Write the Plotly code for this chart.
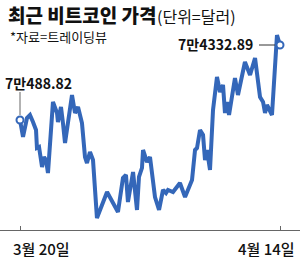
import plotly.graph_objects as go
from datetime import datetime, timedelta

# ---- data ----
title_text = "최근 비트코인 가격"
unit_text = "(단위=달러)"
source_text = "*자료=트레이딩뷰"
tick_labels = ["3월 20일", "4월 14일"]
tick_days = [0, 25]
start_date = datetime(2024, 3, 20)
start_label = "7만488.82"
end_label = "7만4332.89"

days = [0.0, 0.29, 0.67, 0.96, 1.25, 1.54, 1.63, 1.83, 2.12, 2.31, 2.5, 2.69,
        3.17, 3.56, 3.65, 3.94, 4.13, 4.33, 5.0, 5.29, 5.58, 5.96, 6.25, 6.44,
        6.73, 7.02, 7.4, 8.37, 9.42, 9.9, 10.19, 10.38, 10.87, 11.25, 11.44,
        11.73, 11.83, 12.21, 12.5, 12.98, 13.37, 13.75, 14.04, 14.23, 14.71,
        15.38, 15.87, 16.54, 16.83, 17.02, 17.31, 17.6, 17.79, 17.98, 18.27,
        18.56, 18.94, 19.23, 19.52, 19.71, 19.9, 20.1, 20.67, 20.96, 21.63,
        22.12, 22.6, 23.08, 23.37, 23.56, 23.75, 24.23, 24.71, 25.0]
prices = [70488.82, 69620, 70591, 70745, 70386, 69976, 69054, 69105, 68080,
          68592, 68439, 67772, 71411, 70848, 70386, 71155, 70335, 69310, 71770,
          70848, 71155, 70335, 68593, 68285, 68849, 68439, 65466, 66799, 65774,
          67516, 67670, 66286, 67824, 65877, 67568, 68029, 68951, 68336, 68592,
          66542, 65877, 66901, 66747, 66901, 66799, 67260, 66542, 67413, 68951,
          69054, 69976, 69720, 68439, 68951, 67926, 71001, 72693, 71924, 72283,
          70848, 71411, 70745, 72641, 71770, 73461, 72795, 73667, 71668, 71411,
          70848, 71257, 70745, 74845, 74332.89]

# ---- build ----
xs = [start_date + timedelta(days=d) for d in days]
tick_dates = [start_date + timedelta(days=d) for d in tick_days]

W, H = 300, 261
BOTTOM = 31
PH = H - BOTTOM
LINE = "#3467b9"
FONT = "Noto Sans CJK KR"

pad_days = 1.923
xrange = [start_date - timedelta(days=pad_days),
          start_date + timedelta(days=tick_days[-1] + pad_days)]

fig = go.Figure()
fig.add_trace(go.Scatter(
    x=xs, y=prices, mode="lines",
    line=dict(color=LINE, width=4, shape="linear"),
    hoverinfo="skip", showlegend=False,
))
fig.add_trace(go.Scatter(
    x=[xs[0], xs[-1]], y=[prices[0], prices[-1]], mode="markers",
    marker=dict(size=7, color="white", line=dict(color=LINE, width=2)),
    hoverinfo="skip", showlegend=False,
))

def py(p):
    return (PH - p) / PH

annotations = [
    dict(text=title_text, x=6 / W, y=py(15), xref="paper", yref="paper",
         xanchor="left", yanchor="middle", showarrow=False,
         font=dict(family=FONT, size=19, color="#111", weight=900)),
    dict(text=unit_text, x=155 / W, y=py(16), xref="paper", yref="paper",
         xanchor="left", yanchor="middle", showarrow=False,
         font=dict(family=FONT, size=16, color="#111")),
    dict(text=source_text, x=8 / W, y=py(37), xref="paper", yref="paper",
         xanchor="left", yanchor="middle", showarrow=False,
         font=dict(family=FONT, size=13, color="#111")),
    dict(text=start_label, x=xs[0], y=prices[0], xref="x", yref="y",
         xanchor="left", yanchor="middle", xshift=-17, yshift=37,
         showarrow=False,
         font=dict(family=FONT, size=14, color="#111", weight=700)),
    dict(text=end_label, x=xs[-1], y=prices[-1], xref="x", yref="y",
         xanchor="right", yanchor="middle", xshift=-25, yshift=1,
         showarrow=False,
         font=dict(family=FONT, size=14, color="#111", weight=700)),
    dict(text=tick_labels[0], x=tick_dates[0], y=py(248), xref="x", yref="paper",
         xanchor="left", yanchor="middle", xshift=-9, showarrow=False,
         font=dict(family=FONT, size=15, color="#111", weight=500)),
    dict(text=tick_labels[1], x=tick_dates[1], y=py(248), xref="x", yref="paper",
         xanchor="right", yanchor="middle", xshift=17, showarrow=False,
         font=dict(family=FONT, size=15, color="#111", weight=500)),
]

shapes = [
    dict(type="line", xref="x", yref="y", x0=xs[0], x1=xs[0],
         ysizemode="pixel", yanchor=prices[0], y0=5, y1=28,
         line=dict(color="#666", width=1)),
    dict(type="line", xref="x", yref="y", y0=prices[-1], y1=prices[-1],
         xsizemode="pixel", xanchor=xs[-1], x0=-21, x1=-5,
         line=dict(color="#333", width=1)),
]

ymin = prices[0] - 110 * 51.254
ymax = prices[0] + 120 * 51.254

fig.update_layout(
    width=W, height=H,
    margin=dict(l=0, r=0, t=0, b=BOTTOM, pad=0),
    paper_bgcolor="white", plot_bgcolor="white",
    annotations=annotations, shapes=shapes,
    xaxis=dict(type="date", range=xrange, showgrid=False, zeroline=False,
               showline=True, linecolor="#666", linewidth=1,
               tickvals=tick_dates, ticktext=["", ""], ticks="inside",
               ticklen=4, tickcolor="#666", showticklabels=False,
               fixedrange=True),
    yaxis=dict(range=[ymin, ymax], visible=False, fixedrange=True),
)

fig.write_html("out.html", config={"displayModeBar": False})
